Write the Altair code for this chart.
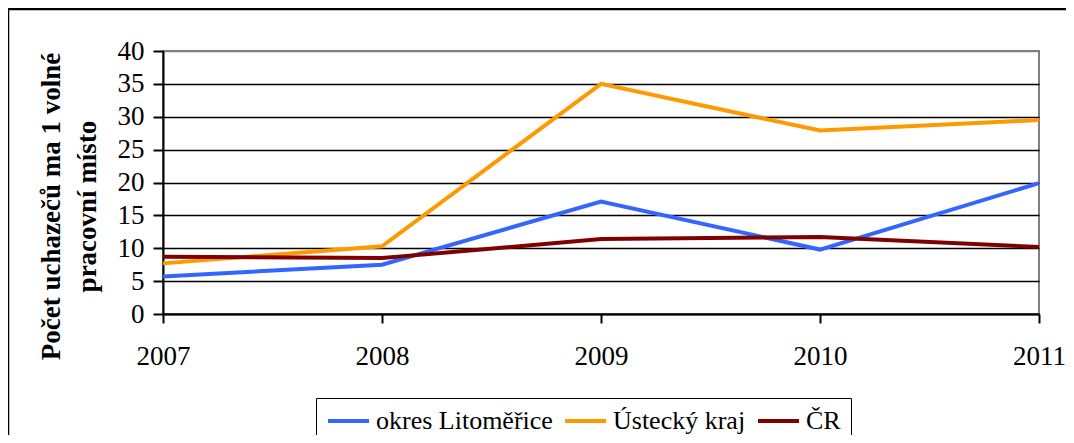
import altair as alt
import pandas as pd

years = [2007, 2008, 2009, 2010, 2011]
series_names = ["okres Litoměřice", "Ústecký kraj", "ČR"]
litomerice = [5.7, 7.5, 17.1, 9.8, 19.9]
ustecky = [7.7, 10.3, 35.0, 27.9, 29.5]
cr = [8.7, 8.5, 11.4, 11.7, 10.2]
colors = ["#3366FF", "#FF9900", "#800000"]
y_ticks = [0, 5, 10, 15, 20, 25, 30, 35, 40]

rows = []
for name, vals in zip(series_names, [litomerice, ustecky, cr]):
    for yr, v in zip(years, vals):
        rows.append({"rok": yr, "hodnota": v, "serie": name})
df = pd.DataFrame(rows)

FONT = "Liberation Serif"

lines = alt.Chart(df).mark_line(strokeWidth=4).encode(
    x=alt.X("rok:Q", scale=alt.Scale(domain=[2007, 2011], nice=False, zero=False),
            axis=alt.Axis(values=years, format="d", title=None, grid=False,
                          labelFont=FONT, labelFontSize=27, labelColor="#000",
                          labelFlush=False, labelPadding=20,
                          tickSize=9, tickColor="#000", tickWidth=2,
                          domainColor="#000", domainWidth=2)),
    y=alt.Y("hodnota:Q", scale=alt.Scale(domain=[0, 40], nice=False),
            axis=alt.Axis(values=y_ticks,
                          title=["Počet uchazečů ma 1 volné", "pracovní místo"],
                          titleFont=FONT, titleFontSize=27, titleFontWeight="bold",
                          titleColor="#000", titleAngle=-90, titleX=-112, titleY=155,
                          titleAlign="center", titleBaseline="middle", titleLineHeight=36,
                          labelFont=FONT, labelFontSize=27, labelColor="#000",
                          labelPadding=9, tickSize=10, tickColor="#000", tickWidth=2,
                          domainColor="#000", domainWidth=2,
                          grid=True, gridWidth=1.5,
                          gridColor={"expr": "datum.value == 40 ? '#808080' : '#000000'"})),
    color=alt.Color("serie:N",
                    scale=alt.Scale(domain=series_names, range=colors),
                    legend=alt.Legend(title=None, orient="none", legendX=153, legendY=347,
                                      direction="horizontal", strokeColor="#000",
                                      padding=10, symbolType="stroke", symbolSize=1681,
                                      symbolStrokeWidth=4, labelFont=FONT, labelFontSize=26,
                                      labelColor="#000", labelOffset=5, columnPadding=10,
                                      clipHeight=26, labelLimit=0)),
)

frame = alt.Chart(pd.DataFrame({"a": [0]})).mark_rect(
    fillOpacity=0, stroke="#000", strokeWidth=2.5
).encode(
    x=alt.value(-155), x2=alt.value(940), y=alt.value(-42), y2=alt.value(430)
)

chart = alt.layer(frame, lines).properties(
    width=876, height=263,
    autosize=alt.AutoSizeParams(type="none"),
    padding={"left": 155, "top": 43, "right": 27, "bottom": 121},
).configure_view(stroke="#808080", strokeWidth=2)

chart.save("out.html", embed_options={"renderer": "svg", "actions": False})
